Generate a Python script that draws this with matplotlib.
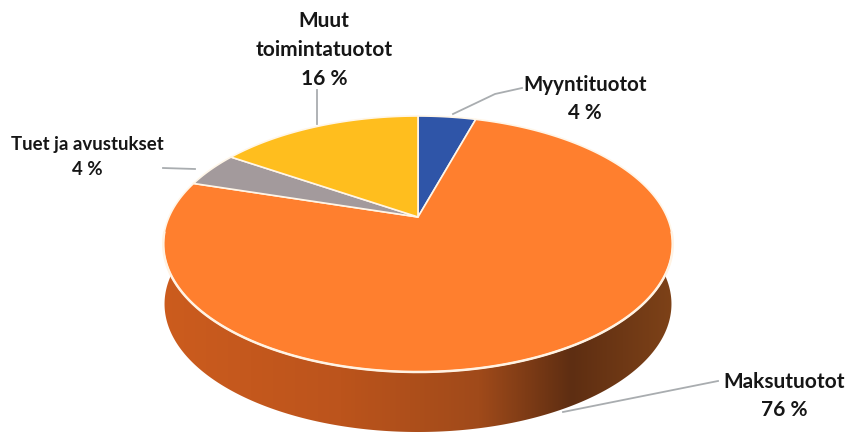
import matplotlib
matplotlib.use("Agg")
import matplotlib.pyplot as plt
import numpy as np
from matplotlib.patches import Polygon

labels = ["Myyntituotot", "Maksutuotot", "Tuet ja avustukset", "Muut\ntoimintatuotot"]
pct_labels = ["4 %", "76 %", "4 %", "16 %"]
# shares, the printed labels are rounded
values = [4.5, 75.2, 4.5, 15.8]
colors = ["#2F55A8", "#FF7F2E", "#A39A9C", "#FFBE1E"]

# pie lies flat and is seen in perspective, so the apex is not the ellipse centre
CX, CY = 418, 217
W, H, K = 249, 122.3, 0.211
DEPTH = 60


def project(frac, scale=1.0, dy=0.0):
    t = 2 * np.pi * np.asarray(frac)
    u, v = np.sin(t), np.cos(t)
    d = 1 + K * v
    return CX + scale * W * u / d, CY + dy - H * v / d


fig = plt.figure(figsize=(8.49, 4.33), dpi=100)
ax = fig.add_axes([0, 0, 1, 1])
ax.set_xlim(0, 849)
ax.set_ylim(433, 0)
ax.axis("off")

# side wall
fr = np.linspace(0.2, 0.8, 300)
x_top, y_top = project(fr)
x_bot, y_bot = project(fr, scale=0.995, dy=DEPTH)
side = Polygon(
    np.column_stack([np.r_[x_top, x_bot[::-1]], np.r_[y_top, y_bot[::-1]]]),
    closed=True, fc="none", ec="none",
)
ax.add_patch(side)
cmap = matplotlib.colors.LinearSegmentedColormap.from_list(
    "side",
    [(0, "#CC5C1E"), (0.35, "#BC541C"), (0.62, "#A04A1A"), (0.8, "#5E2E12"), (1, "#7E4218")],
)
grad = np.linspace(0, 1, 256).reshape(1, -1)
im = ax.imshow(grad, extent=(160, 675, 433, 230), cmap=cmap, aspect="auto", zorder=1)
im.set_clip_path(side)
ax.set_xlim(0, 849)
ax.set_ylim(433, 0)

# top face
edges = np.cumsum([0] + values) / sum(values)
for i, c in enumerate(colors):
    fr = np.linspace(edges[i], edges[i + 1], 200)
    xs, ys = project(fr)
    ax.add_patch(Polygon(
        np.column_stack([np.r_[CX, xs], np.r_[CY, ys]]),
        closed=True, fc=c, ec="#FFF6E8", lw=1.2, zorder=2, joinstyle="round",
    ))

# lighter rim along the front only
fr = np.linspace(0.27, 0.73, 300)
ax.plot(*project(fr), color="#FFF3E4", lw=1.8, zorder=3)

# leader lines
leaders = [
    ([453, 495, 522], [114, 94, 88]),
    ([563, 718], [412, 381]),
    ([163, 195], [168, 169]),
    ([317, 317], [90, 124]),
]
for lx, ly in leaders:
    ax.plot(lx, ly, color="#A9ADB0", lw=1.3, zorder=1.5)

font = dict(family="Lato", fontweight="bold", color="#161616",
            ha="center", va="center", linespacing=1.55)
ax.text(585, 99, f"{labels[0]}\n{pct_labels[0]}", fontsize=14.8, **font)
ax.text(784, 396, f"{labels[1]}\n{pct_labels[1]}", fontsize=15, **font)
ax.text(87, 157, f"{labels[2]}\n{pct_labels[2]}", fontsize=13.4, **font)
ax.text(324, 50, f"{labels[3]}\n{pct_labels[3]}", fontsize=15, **font)

fig.savefig("out.png", dpi=100)
